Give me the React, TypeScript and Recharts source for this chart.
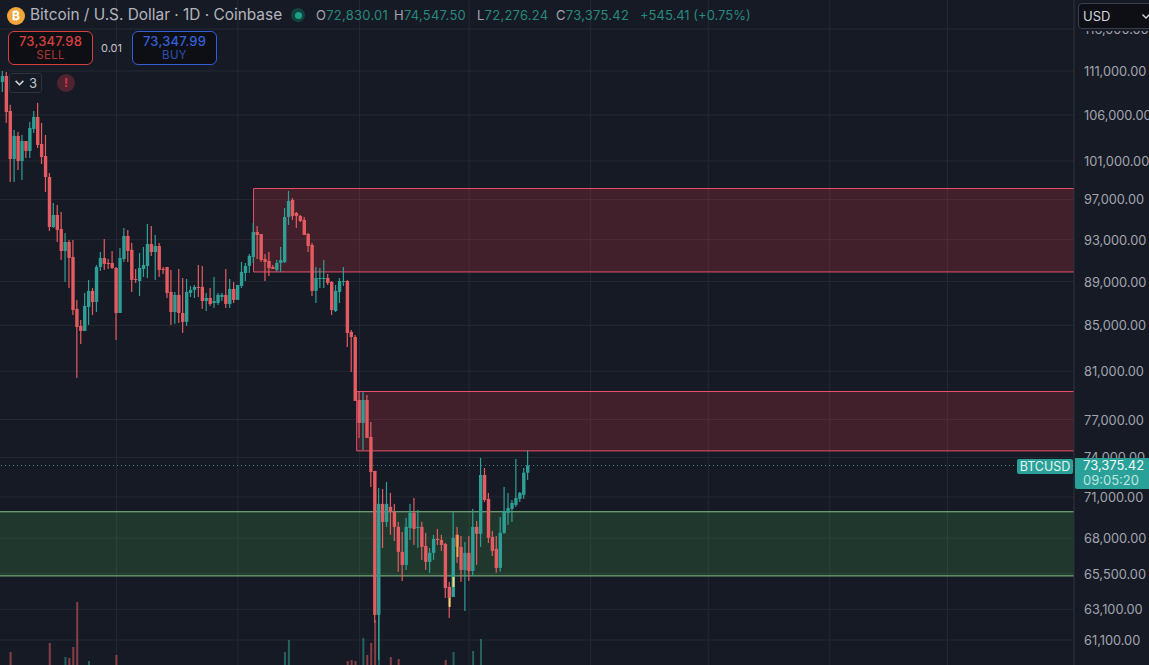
import React from "react";
import {
  Bar,
  CartesianGrid,
  ComposedChart,
  ReferenceArea,
  ReferenceLine,
  XAxis,
  YAxis,
} from "recharts";

// daily BTCUSD candles (log price axis)
const opens = [
  109730, 110420, 106440, 101210, 103690, 101000, 103140, 102070, 104450, 105770,
  102820, 101530, 99320, 94240, 95440, 94040, 91900, 92770, 91320, 86480,
  84950, 84500, 86660, 88130, 87110, 90370, 91230, 90750, 90750, 90280,
  86110, 91130, 93360, 92000, 89240, 89050, 90180, 90470, 92580, 91800,
  92380, 90180, 90370, 88030, 86200, 87760, 86110, 85310, 87940, 88220,
  88500, 88500, 87200, 87480, 87020, 87020, 87570, 87760, 86930, 88310,
  87300, 88590, 89800, 90470, 91320, 93750, 93550, 91130, 90940, 90370,
  90090, 90750, 90850, 95240, 96950, 95640, 95340, 94940, 93550, 92480,
  88130, 89240, 89240, 89330, 88960, 86290, 88030, 88960, 89050, 84420,
  83970, 78600, 76730, 78600, 75610, 72960, 62730, 70480, 69160, 70260,
  69890, 68800, 67020, 66110, 68720, 69820, 68720, 68800, 67440, 66320,
  66950, 67940, 67860, 67580, 64600, 63920, 68230, 67370, 65760, 66950,
  65690, 68800, 68300, 72650, 70850, 68080, 67230, 65900, 68370, 69820,
  70110, 70400, 70850, 71150, 72830.01,
];
const highs = [
  111000, 110880, 107140, 104340, 104120, 103800, 103140, 105230, 106440, 107360,
  105120, 103800, 99730, 96650, 96440, 95740, 93650, 92970, 92970, 87300,
  85480, 87940, 89150, 88400, 90560, 91800, 93060, 91130, 91900, 90370,
  92190, 94140, 93950, 92680, 90180, 91710, 92290, 94540, 94340, 93460,
  92680, 90370, 90370, 90090, 88030, 90180, 89330, 89240, 88590, 88680,
  90560, 90470, 87940, 88400, 89430, 87940, 87940, 90180, 89240, 88960,
  88680, 90850, 90750, 91610, 94640, 94340, 93550, 91610, 91800, 90560,
  91040, 92290, 96140, 97870, 97150, 95740, 95440, 95240, 93650, 92680,
  90370, 90280, 91040, 89710, 89050, 88680, 89330, 90370, 89150, 84590,
  84150, 79260, 79260, 79010, 76810, 72960, 71670, 71590, 72120, 71300,
  70480, 69160, 68440, 69450, 70480, 70920, 70030, 69160, 68370, 67300,
  68230, 68650, 68230, 67650, 64940, 69890, 68800, 68150, 67720, 68150,
  70110, 69230, 73960, 73190, 71300, 68510, 68150, 69520, 71740, 71300,
  70770, 73880, 71370, 73190, 74547.5,
];
const lows = [
  108590, 105120, 98800, 98800, 100050, 99010, 101320, 101320, 104010, 102390,
  100680, 97770, 93850, 94140, 92770, 91040, 88960, 88400, 85930, 80440,
  83360, 84500, 85040, 85930, 86200, 89990, 90090, 90180, 90180, 83710,
  86110, 90850, 90850, 88030, 88870, 87660, 89430, 89330, 91420, 89150,
  89430, 89710, 87480, 85040, 85130, 85220, 84330, 84950, 87570, 87480,
  87570, 86480, 86290, 86750, 86570, 86840, 87200, 86570, 86570, 87020,
  87300, 88400, 89050, 89800, 90750, 91130, 90850, 89050, 89520, 90180,
  89900, 89900, 90750, 94440, 94940, 94140, 94740, 93460, 91800, 87660,
  87020, 88400, 88400, 88680, 85930, 86200, 87020, 88590, 83090, 80940,
  78520, 75530, 74580, 75530, 71740, 62210, 59840, 67300, 68800, 68230,
  67790, 65630, 65010, 65760, 67860, 67510, 67300, 66460, 65760, 65560,
  66460, 67510, 67090, 63860, 62530, 63920, 66250, 64940, 62990, 65010,
  65350, 66110, 67370, 70620, 67650, 66730, 65560, 65630, 68300, 68940,
  69160, 70260, 70620, 70850, 72276.24,
];
const closes = [
  110420, 106330, 101210, 103690, 101000, 103140, 102070, 104560, 105770, 102710,
  101430, 99320, 94240, 95440, 93950, 91900, 92770, 91230, 86380, 84860,
  84500, 86750, 88130, 87110, 90370, 91230, 90660, 90660, 90280, 86110,
  91230, 93360, 91900, 89150, 89150, 90280, 90560, 92580, 91800, 92380,
  90090, 90090, 87940, 86200, 87760, 86110, 85310, 88030, 88220, 88500,
  88400, 87200, 87480, 86930, 87200, 87760, 87760, 86930, 88310, 87300,
  88680, 89900, 90470, 91420, 93750, 93460, 91040, 90850, 90280, 90180,
  90750, 91040, 95240, 96850, 95340, 95340, 94840, 93460, 92380, 88130,
  89330, 89330, 89330, 88870, 86380, 88130, 89050, 89050, 84330, 83970,
  78520, 76730, 78600, 75530, 72880, 62730, 70480, 69160, 70480, 69890,
  68800, 67020, 66110, 68800, 69820, 68650, 68800, 67370, 66320, 66950,
  67940, 67860, 67510, 64530, 63860, 68010, 67370, 65760, 66950, 65690,
  68800, 68300, 72650, 70770, 68010, 67090, 65900, 68370, 69960, 70180,
  70550, 70920, 71300, 72830.01, 73375.42,
];

// volume pane: only the bars that reach above the bottom edge
const volumeDays = [2, 12, 16, 17, 18, 19, 22, 29, 72, 73, 88, 89, 90, 92, 93, 94, 95, 96, 99, 101, 113, 115, 120, 122];
const volumeValues = [1.3, 2.2, 0.8, 0.7, 1.8, 6.3, 0.4, 1.0, 1.3, 2.5, 0.4, 0.5, 0.4, 2.7, 1.0, 2.2, 4.5, 5.0, 0.8, 0.6, 0.5, 1.3, 1.4, 2.6];

// yellow / orange marks that sit on a few candles near the low
const markDays = [114, 115, 116];
const markLows = [63260, 64600, 66660];
const markHighs = [63860, 65280, 68230];
const markColors = ["#f3d774", "#f3d774", "#f0a24a"];

const priceTicks = [116000, 111000, 106000, 101000, 97000, 93000, 89000, 85000, 81000, 77000, 74000, 71000, 68000, 65500, 63100, 61100];
const monthDays = [29, 60, 91, 119, 150, 180, 211, 241];

const lastPrice = 73375.42;
const UP = "#2f9f95";
const DOWN = "#e45c61";
const BG = "#161a25";
const FONT = "Inter, 'Noto Sans', sans-serif";

const X_DOMAIN: [number, number] = [-0.69, 273.3];

const rows = opens.map((o, i) => {
  const v = volumeDays.indexOf(i);
  const m = markDays.indexOf(i);
  return {
    i,
    up: closes[i] >= o,
    wick: [lows[i], highs[i]],
    body: [Math.min(o, closes[i]), Math.max(o, closes[i])],
    volume: v >= 0 ? volumeValues[v] : 0,
    mark: m >= 0 ? [markLows[m], markHighs[m]] : null,
    markColor: m >= 0 ? markColors[m] : "none",
  };
});

const fmt = (v: number) =>
  v.toLocaleString("en-US", { minimumFractionDigits: 2, maximumFractionDigits: 2 });

const Candle = (p: any) => (
  <rect x={p.x} y={p.y} width={p.width} height={Math.max(p.height, 1)} fill={p.payload.up ? UP : DOWN} />
);
const VolumeBar = (p: any) =>
  p.height > 0 ? (
    <rect x={p.x} y={p.y} width={p.width} height={p.height} fill={p.payload.up ? UP : DOWN} fillOpacity={0.55} />
  ) : null;
const Mark = (p: any) =>
  p.payload.mark ? <rect x={p.x} y={p.y} width={p.width} height={p.height} fill={p.payload.markColor} /> : null;

const PriceTick = ({ x, y, payload }: any) => (
  <text x={x + 2} y={y + 5} fill="#a3a6af" fontSize={12.8} fontFamily={FONT}>
    {fmt(payload.value)}
  </text>
);

const abs = (left: number, top: number, extra: React.CSSProperties = {}): React.CSSProperties => ({
  position: "absolute",
  left,
  top,
  fontFamily: FONT,
  whiteSpace: "nowrap",
  ...extra,
});

const Quote = ({ k, v, w }: { k: string; v: string; w: number }) => (
  <span style={{ display: "inline-block", width: w }}>
    <span style={{ color: "#a3a6af" }}>{k}</span>
    {v}
  </span>
);

const OrderBox = ({ left, price, side, color }: { left: number; price: string; side: string; color: string }) => (
  <div
    style={abs(left, 31, {
      width: 83,
      height: 30,
      border: `1px solid ${color}`,
      borderRadius: 6,
      background: "#0e0f14",
      color,
      textAlign: "center",
      paddingTop: 2,
    })}
  >
    <div style={{ fontSize: 13, fontWeight: 500, lineHeight: "14px", letterSpacing: 0.2 }}>{price}</div>
    <div style={{ fontSize: 11.5, lineHeight: "14px", opacity: 0.8, letterSpacing: 0.3 }}>{side}</div>
  </div>
);

const Chevron = ({ left, top, size, color }: { left: number; top: number; size: number; color: string }) => (
  <svg style={{ position: "absolute", left, top }} width={size} height={size} viewBox="0 0 10 10">
    <path d="M1.5 3.5 L5 7 L8.5 3.5" fill="none" stroke={color} strokeWidth={1.4} />
  </svg>
);

export default function App() {
  return (
    <div style={{ position: "fixed", left: 0, top: 0, width: 1149, height: 665, background: BG, overflow: "hidden" }}>
      <ComposedChart width={1149} height={665} data={rows} margin={{ top: 0, right: 0, bottom: 0, left: 0 }} barGap={0}>
        <XAxis xAxisId="wick" dataKey="i" type="number" domain={X_DOMAIN} hide allowDataOverflow />
        <XAxis xAxisId="body" dataKey="i" type="number" domain={X_DOMAIN} hide allowDataOverflow />
        <XAxis xAxisId="vol" dataKey="i" type="number" domain={X_DOMAIN} hide allowDataOverflow />
        <XAxis xAxisId="mark" dataKey="i" type="number" domain={X_DOMAIN} hide allowDataOverflow />
        <YAxis
          yAxisId="price"
          orientation="right"
          width={75}
          scale="log"
          domain={[59518, 119585]}
          allowDataOverflow
          ticks={priceTicks}
          interval={0}
          tick={<PriceTick />}
          tickLine={false}
          axisLine={{ stroke: "#2e323e" }}
        />
        <YAxis yAxisId="vol" hide domain={[0, 66.5]} allowDataOverflow />
        <CartesianGrid
          xAxisId="wick"
          yAxisId="price"
          stroke="#252934"
          horizontalValues={priceTicks}
          verticalValues={monthDays}
        />
        <ReferenceArea xAxisId="wick" yAxisId="price" x1={64} x2={280} y1={89900} y2={98120} ifOverflow="hidden" fill="#f23645" fillOpacity={0.2} stroke="#e8506a" strokeOpacity={1} />
        <ReferenceArea xAxisId="wick" yAxisId="price" x1={90.3} x2={280} y1={74510} y2={79300} ifOverflow="hidden" fill="#f23645" fillOpacity={0.2} stroke="#e8506a" strokeOpacity={1} />
        <ReferenceArea xAxisId="wick" yAxisId="price" x1={-5} x2={280} y1={65350} y2={69900} ifOverflow="hidden" fill="#4caf50" fillOpacity={0.2} stroke="#86c587" strokeOpacity={1} />
        <Bar xAxisId="vol" yAxisId="vol" dataKey="volume" barSize={2} shape={VolumeBar} isAnimationActive={false} />
        <Bar xAxisId="wick" yAxisId="price" dataKey="wick" barSize={1.2} shape={Candle} isAnimationActive={false} />
        <Bar xAxisId="body" yAxisId="price" dataKey="body" barSize={3.4} shape={Candle} isAnimationActive={false} />
        <Bar xAxisId="mark" yAxisId="price" dataKey="mark" barSize={2} shape={Mark} isAnimationActive={false} />
        <ReferenceLine xAxisId="wick" yAxisId="price" y={lastPrice} stroke="#4fb3a9" strokeDasharray="1 3" strokeOpacity={0.7} />
      </ComposedChart>

      {/* header */}
      <div style={abs(7, 7, { width: 18, height: 18, borderRadius: 9, background: "#f2a53a", color: "#fff", fontSize: 12, fontWeight: 700, textAlign: "center", lineHeight: "18px" })}>₿</div>
      <div style={abs(30, 5, { fontSize: 15.4, color: "#b2b5be", lineHeight: "20px" })}>Bitcoin / U.S. Dollar · 1D · Coinbase</div>
      <div style={abs(291, 8, { width: 14, height: 14, borderRadius: 7, background: "#12433f" })} />
      <div style={abs(295, 12, { width: 7, height: 7, borderRadius: 4, background: "#1f9e8a" })} />
      <div style={abs(316, 6, { fontSize: 13, color: "#26897f", lineHeight: "18px", letterSpacing: 0.25 })}>
        <Quote k="O" v="72,830.01" w={78} />
        <Quote k="H" v="74,547.50" w={83} />
        <Quote k="L" v="72,276.24" w={79} />
        <Quote k="C" v="73,375.42" w={84} />
        <span style={{ letterSpacing: 0 }}>+545.41 (+0.75%)</span>
      </div>

      <OrderBox left={8} price="73,347.98" side="SELL" color="#d8403f" />
      <div style={abs(101, 41, { fontSize: 11, color: "#c4c6cc", lineHeight: "14px" })}>0.01</div>
      <OrderBox left={132} price="73,347.99" side="BUY" color="#3360d8" />

      <div style={abs(9, 73, { width: 31, height: 18, border: "1px solid #2e323e", borderRadius: 3, background: BG, color: "#c4c6cc", fontSize: 13, lineHeight: "18px" })}>
        <Chevron left={4} top={3} size={11} color="#d1d4dc" />
        <span style={{ position: "absolute", left: 19 }}>3</span>
      </div>
      <div style={abs(57, 74, { width: 18, height: 18, borderRadius: 9, background: "#4f2330", color: "#d0384a", fontSize: 12, fontWeight: 700, textAlign: "center", lineHeight: "18px" })}>!</div>

      {/* currency select, it hides most of the top tick */}
      <div style={abs(1075, 0, { width: 74, height: 31, background: BG })} />
      <div style={abs(1078, 3, { width: 80, height: 24, border: "1px solid #3a3e4a", borderRadius: 4, background: "#0e0f14", color: "#d1d4dc", fontSize: 13, lineHeight: "24px", paddingLeft: 4 })}>
        USD
        <Chevron left={62} top={7} size={10} color="#d1d4dc" />
      </div>

      {/* last price tag */}
      <div style={abs(1017, 459, { width: 56, height: 15, borderRadius: 2, background: "#2aa198", color: "#e6f5f3", fontSize: 12.5, lineHeight: "15px", textAlign: "center" })}>BTCUSD</div>
      <div style={abs(1075, 458, { width: 74, height: 31, borderRadius: "0 0 0 2px", background: "#2aa198" })}>
        <div style={abs(8, 0, { color: "#f1faf9", fontSize: 13, lineHeight: "15px" })}>73,375.42</div>
        <div style={abs(8, 15, { color: "#bfe5e0", fontSize: 13, lineHeight: "15px" })}>09:05:20</div>
      </div>
    </div>
  );
}
